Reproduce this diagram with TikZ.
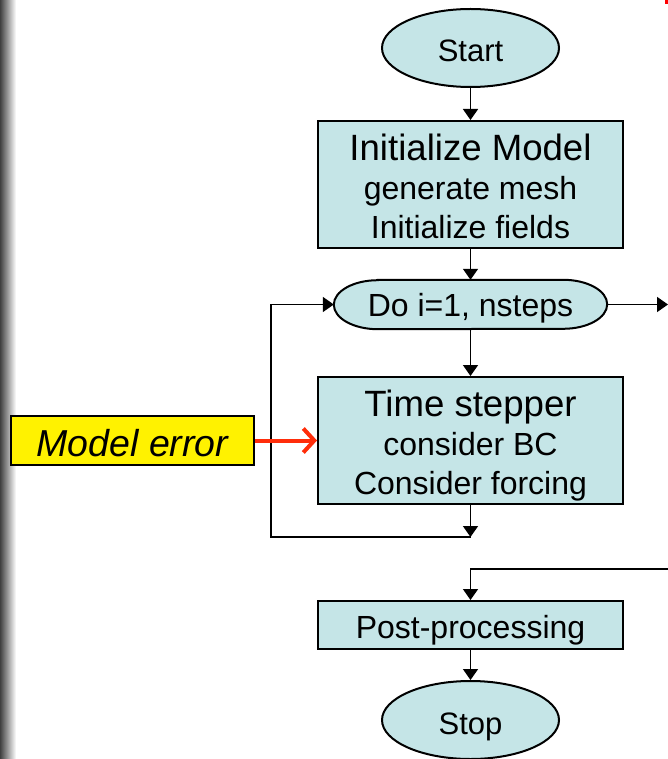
\documentclass[tikz,border=0pt]{standalone}
\usepackage{fontspec}
\setmainfont{Liberation Sans}
\usetikzlibrary{arrows.meta,shapes.geometric,backgrounds}
\definecolor{flowfill}{RGB}{197,229,231}
\definecolor{errred}{RGB}{255,45,10}
\newcommand{\headline}[2]{{\fontsize{36.6pt}{39pt}\selectfont\rule{0pt}{#1}#2}}
\begin{document}
\begin{tikzpicture}[x=1pt,y=-1pt,
  smallfont/.style={font=\fontsize{32pt}{39pt}\selectfont},
  box/.style={draw=black,line width=2pt,fill=flowfill,rectangle,inner sep=0pt,
    minimum width=305pt,align=center,smallfont},
  bigbox/.style={box,minimum height=127pt},
  term/.style={draw=black,line width=2pt,fill=flowfill,ellipse,inner sep=0pt,
    minimum width=177pt,minimum height=78pt,text height=28pt,text depth=0pt,
    font=\fontsize{31pt}{37pt}\selectfont},
  arr/.style={line width=1.6pt,-{Triangle[length=11pt,width=15pt]}},
  redarr/.style={errred,line width=4pt,-{Straight Barb[length=11pt,width=24pt]}}]
\useasboundingbox (0,0) rectangle (668,759);

% shaded page edge on the left
\shade[left color=black!75,right color=white] (0,0) rectangle (16,759);
\fill[red] (665,0) rectangle (668,4);

% flowchart nodes
\node[term] (start) at (470.5,48) {Start};
\node[bigbox] (init) at (470.5,184.5)
  {\headline{31pt}{Initialize Model}\\generate mesh\\Initialize fields};
\node[smallfont,minimum width=273pt,minimum height=49pt,inner sep=0pt,
  text height=24pt,text depth=0pt] (do) at (470.5,304.5) {Do i=1, nsteps};
\node[bigbox] (ts) at (470.5,440.5)
  {\headline{36pt}{Time stepper}\\consider BC\\Consider forcing};
\node[box,minimum height=48pt,text height=26pt,text depth=0pt] (pp) at (470.5,625)
  {Post-processing};
\node[term] (stop) at (470.5,720) {Stop};
\node[draw=black,line width=1.6pt,fill=yellow,minimum width=243pt,minimum height=49pt,
  inner sep=0pt,text height=32pt,text depth=0pt,
  font=\fontsize{37.5pt}{40pt}\selectfont\itshape] (err) at (132.5,440.5)
  {Model error};

% terminator outline of the loop node
\begin{scope}[on background layer]
  \draw[line width=2pt,fill=flowfill]
    ([xshift=44pt]do.north west) -- ([xshift=-44pt]do.north east)
    arc[start angle=90,end angle=-90,x radius=44pt,y radius=24.5pt]
    -- ([xshift=44pt]do.south west)
    arc[start angle=-90,end angle=-270,x radius=44pt,y radius=24.5pt] -- cycle;
\end{scope}

% free ends of the loop connectors
\coordinate (outR) at (668,304.5);
\coordinate (inR) at (668,569);
\coordinate (loopB) at (470.5,537);
\coordinate (loopL) at (271,537);

% connectors
\draw[arr] (start) -- (init);
\draw[arr] (init) -- (do);
\draw[arr] (do) -- (ts);
\draw[arr] (do.east) -- (outR);
\draw[arr] (ts) -- (loopB);
\draw[arr] (loopB) -- (loopL) |- (do.west);
\draw[arr] (inR) -| (pp.north);
\draw[arr] (pp) -- (stop);
\draw[redarr] (err) -- (ts);
\end{tikzpicture}
\end{document}
